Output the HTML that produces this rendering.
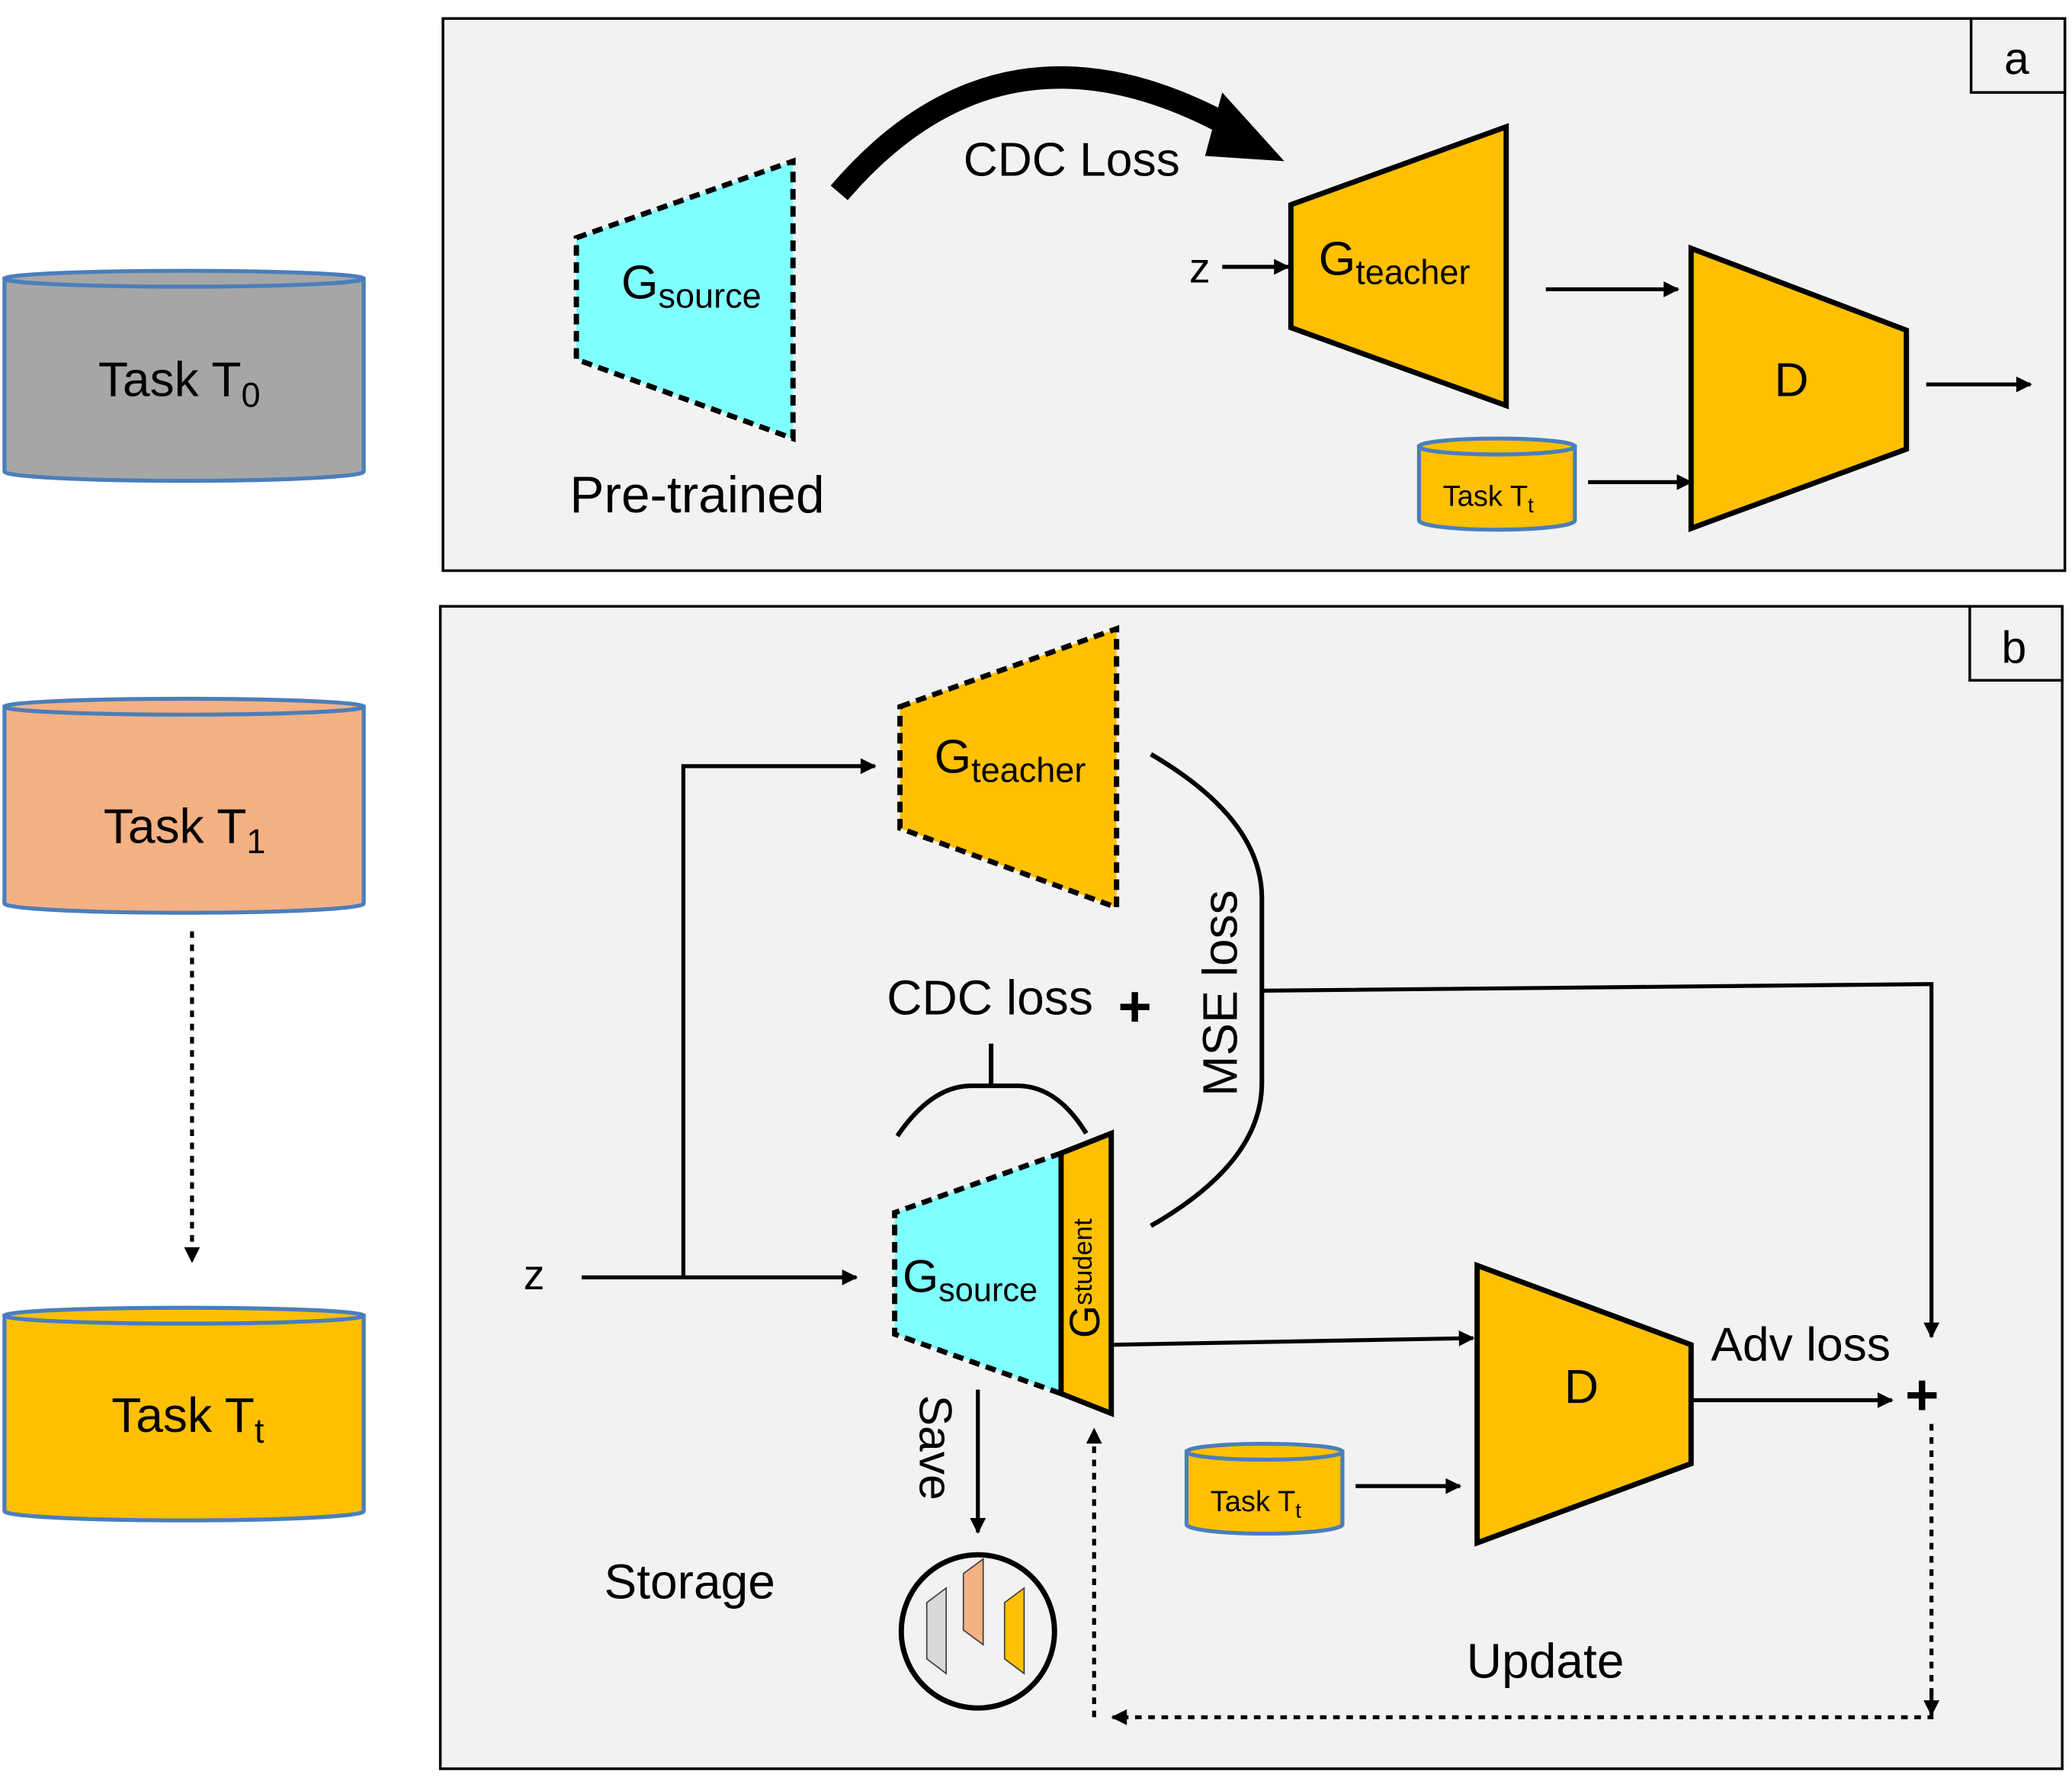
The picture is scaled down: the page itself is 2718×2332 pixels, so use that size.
<!DOCTYPE html>
<html><head><meta charset="utf-8"><style>
html,body{margin:0;padding:0;background:#fff}
svg{display:block}
text{font-family:"Liberation Sans",sans-serif;fill:#000}
</style></head><body>
<svg width="2718" height="2332" viewBox="0 0 1568 1346" xmlns="http://www.w3.org/2000/svg">
<defs>
<marker id="ahs" viewBox="0 0 10 10" refX="9" refY="5" markerWidth="18" markerHeight="12" orient="auto" markerUnits="userSpaceOnUse"><path d="M0,0 L10,5 L0,10 z" fill="#000"/></marker>
</defs>
<rect width="1568" height="1346" fill="#fff"/>
<g stroke="#4a7ebb" stroke-width="3">
<path d="M3,211 L3,357 A136,7 0 0 0 275,357 L275,211 Z" fill="#a6a6a6"/>
<ellipse cx="139" cy="211" rx="136" ry="6" fill="#a6a6a6"/>
<path d="M3,535 L3,684 A136,7 0 0 0 275,684 L275,535 Z" fill="#f4b183"/>
<ellipse cx="139" cy="535" rx="136" ry="6" fill="#f4b183"/>
<path d="M3,996 L3,1144 A136,7 0 0 0 275,1144 L275,996 Z" fill="#ffc000"/>
<ellipse cx="139" cy="996" rx="136" ry="6" fill="#ffc000"/>
</g>
<text x="74" y="300" font-size="37">Task T<tspan font-size="26" dy="8">0</tspan></text>
<text x="78" y="638" font-size="37">Task T<tspan font-size="26" dy="8">1</tspan></text>
<text x="84" y="1084" font-size="37">Task T<tspan font-size="26" dy="8">t</tspan></text>
<line x1="145" y1="705" x2="145" y2="955" stroke="#000" stroke-width="3" stroke-dasharray="5,5" marker-end="url(#ahs)"/>

<rect x="335" y="14" width="1228" height="418" fill="#f2f2f2" stroke="#000" stroke-width="2"/>
<rect x="1492" y="14" width="71" height="56" fill="#f2f2f2" stroke="#000" stroke-width="2"/>
<text x="1517" y="56" font-size="34">a</text>
<polygon points="436,180 600,122 600,332 436,272" fill="#80ffff" stroke="#000" stroke-width="4" stroke-dasharray="8,5"/>
<text x="470" y="226" font-size="36">G<tspan font-size="26" dy="7">source</tspan></text>
<path d="M635,146 Q760,0 935,98" fill="none" stroke="#000" stroke-width="17"/>
<polygon points="925,70 972,122 912,118" fill="#000"/>
<text x="729" y="133" font-size="36">CDC Loss</text>
<polygon points="977,155 1140,96 1140,307 977,248" fill="#ffc000" stroke="#000" stroke-width="4"/>
<text x="998" y="208" font-size="36">G<tspan font-size="26" dy="7">teacher</tspan></text>
<text x="900" y="214" font-size="32">z</text>
<line x1="925" y1="202" x2="975" y2="202" stroke="#000" stroke-width="3" marker-end="url(#ahs)"/>
<line x1="1170" y1="219" x2="1270" y2="219" stroke="#000" stroke-width="3" marker-end="url(#ahs)"/>
<polygon points="1280,188 1443,250 1443,340 1280,400" fill="#ffc000" stroke="#000" stroke-width="4"/>
<text x="1343" y="300" font-size="36">D</text>
<line x1="1458" y1="291" x2="1537" y2="291" stroke="#000" stroke-width="3" marker-end="url(#ahs)"/>
<g stroke="#4a7ebb" stroke-width="3" fill="#ffc000">
<path d="M1074,338 L1074,394 A59,7 0 0 0 1192,394 L1192,338 Z"/>
<ellipse cx="1133" cy="338" rx="59" ry="6"/>
</g>
<text x="1092" y="383" font-size="22">Task T<tspan font-size="16" dy="5">t</tspan></text>
<line x1="1202" y1="365" x2="1280" y2="365" stroke="#000" stroke-width="3" marker-end="url(#ahs)"/>
<text x="431" y="388" font-size="39">Pre-trained</text>

<rect x="333" y="459" width="1228" height="880" fill="#f2f2f2" stroke="#000" stroke-width="2"/>
<rect x="1491" y="459" width="70" height="56" fill="#f2f2f2" stroke="#000" stroke-width="2"/>
<text x="1515" y="502" font-size="34">b</text>
<polygon points="681,535 845,476 845,687 681,627" fill="#ffc000" stroke="#000" stroke-width="4" stroke-dasharray="8,5"/>
<text x="707" y="585" font-size="36">G<tspan font-size="26" dy="7">teacher</tspan></text>
<text x="396" y="976" font-size="32">z</text>
<line x1="440" y1="967" x2="648" y2="967" stroke="#000" stroke-width="3" marker-end="url(#ahs)"/>
<polyline points="517,967 517,580 662,580" fill="none" stroke="#000" stroke-width="3" marker-end="url(#ahs)"/>
<path d="M871,571 Q955,620 955,680 L955,820 Q955,880 871,928" fill="none" stroke="#000" stroke-width="3.5"/>
<text x="0" y="0" font-size="37" transform="translate(936,830) rotate(-90)">MSE loss</text>
<polyline points="955,750 1460,745 1462,745 1462,1012" fill="none" stroke="#000" stroke-width="3" marker-end="url(#ahs)"/>
<text x="671" y="768" font-size="37">CDC loss</text>
<text x="846" y="777" font-size="44" font-weight="bold">+</text>
<path d="M679,860 Q705,822 735,822 L770,822 Q800,822 822,858" fill="none" stroke="#000" stroke-width="3.5"/>
<line x1="750" y1="822" x2="750" y2="790" stroke="#000" stroke-width="3.5"/>
<polygon points="677,918 803,873 803,1055 677,1010" fill="#80ffff"/>
<polyline points="803,873 677,918 677,1010 803,1055" fill="none" stroke="#000" stroke-width="4" stroke-dasharray="8,5"/>
<polygon points="803,873 841,858 841,1070 803,1055" fill="#ffc000" stroke="#000" stroke-width="4"/>
<text x="683" y="978" font-size="35">G<tspan font-size="25" dy="7">source</tspan></text>
<text x="0" y="0" font-size="32" transform="translate(832,1013) rotate(-90)">G<tspan font-size="20" dy="-6">student</tspan></text>
<line x1="843" y1="1018" x2="1115" y2="1013" stroke="#000" stroke-width="3" marker-end="url(#ahs)"/>
<polygon points="1118,958 1280,1018 1280,1108 1118,1168" fill="#ffc000" stroke="#000" stroke-width="4"/>
<text x="1184" y="1062" font-size="36">D</text>
<line x1="1282" y1="1060" x2="1432" y2="1060" stroke="#000" stroke-width="3" marker-end="url(#ahs)"/>
<text x="1295" y="1030" font-size="36">Adv loss</text>
<text x="1442" y="1071" font-size="44" font-weight="bold">+</text>
<polyline points="1462,1078 1462,1300 842,1300" fill="none" stroke="#000" stroke-width="3" stroke-dasharray="5,5" marker-end="url(#ahs)"/>
<line x1="1462" y1="1280" x2="1462" y2="1298" stroke="#000" stroke-width="3" marker-end="url(#ahs)"/>
<line x1="828" y1="1300" x2="828" y2="1082" stroke="#000" stroke-width="3" stroke-dasharray="5,5" marker-end="url(#ahs)"/>
<text x="1110" y="1270" font-size="37">Update</text>
<text x="0" y="0" font-size="35" transform="translate(696,1056) rotate(90)">Save</text>
<line x1="740" y1="1052" x2="740" y2="1160" stroke="#000" stroke-width="3" marker-end="url(#ahs)"/>
<text x="457" y="1210" font-size="37">Storage</text>
<circle cx="740" cy="1235" r="58" fill="#f2f2f2" stroke="#000" stroke-width="4"/>
<g stroke="#404040" stroke-width="1">
<polygon points="701.3,1213.2 716,1202.2 716,1266.9 701.3,1255.8" fill="#d9d9d9"/>
<polygon points="729,1191.3 744,1180.2 744,1245.1 729,1234" fill="#f4b183"/>
<polygon points="760.2,1213.2 775,1202.2 775,1266.9 760.2,1255.8" fill="#ffc000"/>
</g>
<g stroke="#4a7ebb" stroke-width="3" fill="#ffc000">
<path d="M898,1099 L898,1154 A59,7 0 0 0 1016,1154 L1016,1099 Z"/>
<ellipse cx="957" cy="1099" rx="59" ry="6"/>
</g>
<text x="916" y="1144" font-size="22">Task T<tspan font-size="16" dy="5">t</tspan></text>
<line x1="1026" y1="1125" x2="1105" y2="1125" stroke="#000" stroke-width="3" marker-end="url(#ahs)"/>
</svg>
</body></html>
